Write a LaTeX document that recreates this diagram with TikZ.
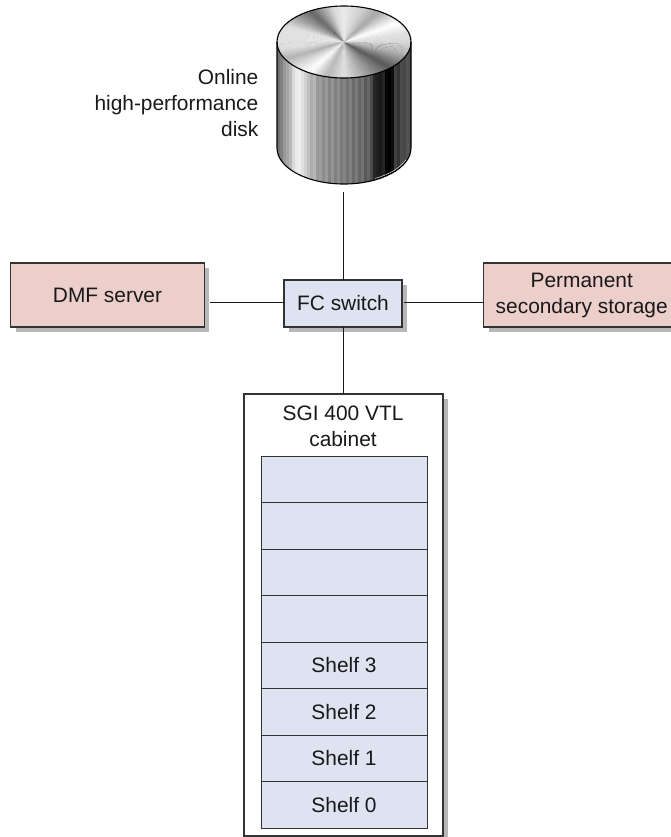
\documentclass[tikz,border=0pt]{standalone}
\usepackage{fontspec}
\setmainfont{Liberation Sans}
\usetikzlibrary{shadows,backgrounds}
\definecolor{pinkbox}{HTML}{ECCFCB}
\definecolor{bluebox}{HTML}{DEE3F1}
\definecolor{edge}{HTML}{333333}
\definecolor{shade}{HTML}{B8B8B8}
\tikzset{
  lbl/.style={font=\fontsize{20.9}{26}\selectfont,text=black!90,align=center,inner sep=0pt},
  box/.style={lbl,draw=edge,line width=1.1pt,minimum width=#1,inner sep=0pt,outer sep=0pt,
     copy shadow={shadow xshift=5pt,shadow yshift=-5pt,fill=shade,draw=none,opacity=1}},
  shelfbox/.style={lbl,draw=edge,line width=1pt,fill=bluebox,minimum width=166pt,minimum height=46.5pt,inner sep=0pt,outer sep=0pt},
  wire/.style={line width=1pt,draw=black!90},
}
\begin{document}
\begin{tikzpicture}[x=1pt,y=-1pt]
\useasboundingbox (0,0) rectangle (670,837);
% --- disk ---
\begin{scope}
  \clip (277,42) -- (277,148) arc[start angle=180,end angle=0,x radius=67,y radius=36] -- (411,42) -- cycle;
  \foreach \g [count=\i from 0] in {.45,.5,.6,.65,.72,.85,.92,.93,.88,.82,.75,.68,.72,.6,.62,.55,.6,.52,.58,.5,.55,.48,.52,.45,.5,.42,.48,.4,.45,.35,.4,.3,.15,.12,.1,.15,.02,0,.05,.25,.2,.3,.28,.33,.3}{
    \pgfmathsetmacro{\pct}{100*(1-\g)}
    \pgfmathsetmacro{\xa}{277+3*\i}
    \fill[black!\pct] (\xa,30) rectangle (\xa+3.2,190);
  }
\end{scope}
\draw[white,line width=.6pt,opacity=.8] (344,148)+({66*cos(62)},{34.5*sin(62)}) arc[start angle=62,end angle=20,x radius=66,y radius=34.5];
\begin{scope}
  \clip (344,42) ellipse[x radius=67,y radius=36];
  \foreach \a/\ga/\b/\gb in {0/.85/15/.88,15/.88/33/1,33/1/45/.85,45/.85/58/.65,58/.65/72/.8,72/.8/90/.92,90/.92/100/.85,100/.85/120/.4,120/.4/135/.6,135/.6/154/.88,154/.88/190/.88,190/.88/208/.7,208/.7/222/.85,222/.85/238/1,238/1/255/.72,255/.72/270/.88,270/.88/285/.7,285/.7/315/.35,315/.35/340/.7,340/.7/360/.85}{
    \pgfmathsetmacro{\steps}{int(max(1,(\b-\a)/3))}
    \foreach \k in {1,...,\steps}{
      \pgfmathsetmacro{\ta}{\a+(\b-\a)*(\k-1)/\steps}
      \pgfmathsetmacro{\tb}{\a+(\b-\a)*\k/\steps+.4}
      \pgfmathsetmacro{\pct}{100*(1-(\ga+(\gb-\ga)*(\k-.5)/\steps))}
      \fill[black!\pct] (344,42) -- ({344+80*cos(\ta)},{42-44*sin(\ta)}) -- ({344+80*cos(\tb)},{42-44*sin(\tb)}) -- cycle;
    }
  }
\end{scope}
\draw[black,line width=1.1pt] (344,42) ellipse[x radius=67,y radius=36];
\draw[black,line width=1.1pt] (277,42) -- (277,148) arc[start angle=180,end angle=0,x radius=67,y radius=36] -- (411,42);
\coordinate (diskbottom) at (343,192);
\node[lbl,anchor=east,align=right] (disklabel) at (258.5,103) {Online\\high-performance\\disk};
% --- boxes ---
\node[box=193.5pt,minimum height=64pt,fill=pinkbox] (dmf) at (107.5,295) {DMF server};
\node[box=118pt,minimum height=47pt,fill=bluebox] (fc) at (343,303.5) {FC switch};
\node[box=196pt,minimum height=64pt,fill=pinkbox] (perm) at (581.7,295) {Permanent\\secondary storage};
\node[box=199pt,minimum height=442pt,fill=white] (cab) at (343.5,615) {};
\node[lbl] (cabtext) at (343,426) {SGI 400 VTL\\cabinet};
\node[shelfbox] (e4) at (344,479.25) {};
\node[shelfbox] (e3) at (344,525.75) {};
\node[shelfbox] (e2) at (344,572.25) {};
\node[shelfbox] (e1) at (344,618.75) {};
\node[shelfbox] (s3) at (344,665.25) {Shelf 3};
\node[shelfbox] (s2) at (344,711.75) {Shelf 2};
\node[shelfbox] (s1) at (344,758.25) {Shelf 1};
\node[shelfbox] (s0) at (344,804.75) {Shelf 0};
% --- connectors ---
\draw[wire] (diskbottom) -- (fc.north);
\draw[wire] (fc.south) -- (fc.south |- cab.north);
\draw[wire,shorten >=5.5pt] (fc.west |- 0,302) -- (dmf.east |- 0,302);
\draw[wire,shorten <=2pt] (fc.east |- 0,302) -- (perm.west |- 0,302);
\end{tikzpicture}
\end{document}
